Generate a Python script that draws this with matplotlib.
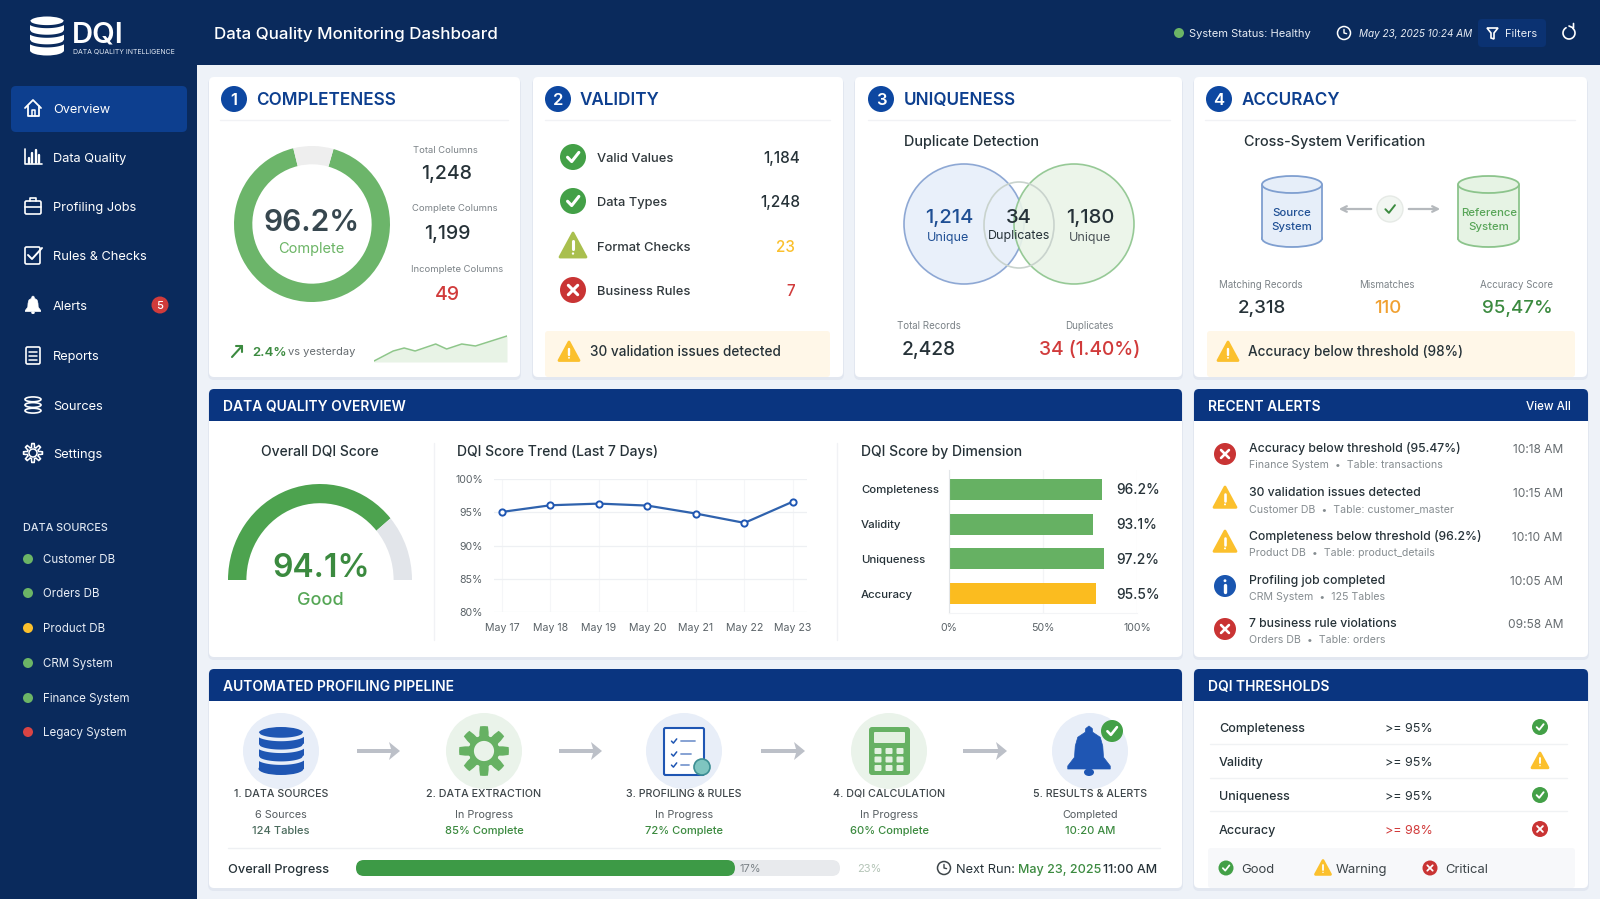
# encoding=utf-8

import numpy as np
import matplotlib
matplotlib.use('Agg')
import matplotlib.pyplot as plt
from matplotlib.patches import Circle, Ellipse, FancyBboxPatch, Polygon, Rectangle

plt.rcParams['font.family'] = ['Inter', 'DejaVu Sans']

W, H = 1600, 899

NAVY = '#0a2a5c'
HEAD_BLUE = '#0a3580'
BADGE_BLUE = '#0d47a1'
GREEN = '#4caf50'
SOFT_GREEN = '#6cb566'
DARK_GREEN = '#3b8a3f'
AMBER = '#fbc02d'
RED = '#d13b3b'
INK = '#263238'
GRAY = '#7b8287'

# sidebar
nav_labels = ['Overview', 'Data Quality', 'Profiling Jobs', 'Rules & Checks', 'Alerts',
              'Reports', 'Sources', 'Settings']
alert_badge = '5'
source_names = ['Customer DB', 'Orders DB', 'Product DB', 'CRM System', 'Finance System', 'Legacy System']
source_states = ['good', 'good', 'warn', 'good', 'good', 'bad']

# completeness card
complete_slices = [91.7, 8.3]
complete_stat_names = ['Total Columns', 'Complete Columns', 'Incomplete Columns']
complete_stat_values = ['1,248', '1,199', '49']
spark_pos = [0, 0.7, 1.1, 1.5, 2.25, 2.65, 3.2, 3.7, 4.85]
spark_vals = [1, 11, 14, 11, 18, 13, 18, 16, 26]

# validity card
validity_names = ['Valid Values', 'Data Types', 'Format Checks', 'Business Rules']
validity_values = ['1,184', '1,248', '23', '7']
validity_states = ['good', 'good', 'warn', 'bad']

# overview charts
gauge_slices = [77.8, 22.2]
trend_days = ['May 17', 'May 18', 'May 19', 'May 20', 'May 21', 'May 22', 'May 23']
trend_scores = [95.05, 96.05, 96.3, 96.0, 94.8, 93.4, 96.6]
trend_ticks = [80, 85, 90, 95, 100]
dimension_names = ['Completeness', 'Validity', 'Uniqueness', 'Accuracy']
dimension_bars = [81.4, 76.6, 82.4, 78.2]
dimension_labels = ['96.2%', '93.1%', '97.2%', '95.5%']

# alerts
alert_titles = ['Accuracy below threshold (95.47%)', '30 validation issues detected',
                'Completeness below threshold (96.2%)', 'Profiling job completed', '7 business rule violations']
alert_subs = ['Finance System  •  Table: transactions', 'Customer DB  •  Table: customer_master',
              'Product DB  •  Table: product_details', 'CRM System  •  125 Tables', 'Orders DB  •  Table: orders']
alert_times = ['10:18 AM', '10:15 AM', '10:10 AM', '10:05 AM', '09:58 AM']
alert_states = ['bad', 'warn', 'warn', 'info', 'bad']

# thresholds
threshold_names = ['Completeness', 'Validity', 'Uniqueness', 'Accuracy']
threshold_values = ['>= 95%', '>= 95%', '>= 95%', '>= 98%']
threshold_states = ['good', 'warn', 'good', 'bad']

# pipeline
step_names = ['1. DATA SOURCES', '2. DATA EXTRACTION', '3. PROFILING & RULES', '4. DQI CALCULATION', '5. RESULTS & ALERTS']
step_status = ['6 Sources', 'In Progress', 'In Progress', 'In Progress', 'Completed']
step_detail = ['124 Tables', '85% Complete', '72% Complete', '60% Complete', '10:20 AM']
overall_progress = 78.3

fig = plt.figure(figsize=(W / 100, H / 100), dpi=100, facecolor='#eef2f8')
ax = fig.add_axes([0, 0, 1, 1])
ax.set_xlim(0, W)
ax.set_ylim(H, 0)
ax.axis('off')


def txt(x, y, s, size=9, color=INK, weight='normal', ha='left', **kw):
    # y is the middle of the capitals, so rows line up whatever the letters are
    return ax.text(x, y + .505 * size, s, fontsize=size, color=color, fontweight=weight, ha=ha, va='baseline', **kw)


def rrect(x0, y0, x1, y1, r, fc, ec='none', lw=0, z=1, alpha=None):
    p = FancyBboxPatch((x0, y0), x1 - x0, y1 - y0, boxstyle='round,pad=0,rounding_size=%s' % r,
                       fc=fc, ec=ec, lw=lw, zorder=z, alpha=alpha)
    ax.add_patch(p)
    return p


def line(xs, ys, color, lw=1.5, z=4, **kw):
    ax.plot(xs, ys, color=color, lw=lw, zorder=z, solid_capstyle='round', solid_joinstyle='round', **kw)


def inset(x0, y0, x1, y1):
    return fig.add_axes([x0 / W, 1 - y1 / H, (x1 - x0) / W, (y1 - y0) / H], facecolor='none')


def card(x0, y0, x1, y1):
    rrect(x0 - 1, y0 + 1, x1 + 1, y1 + 3, 6, '#dde3ee', z=0.5, alpha=0.7)
    rrect(x0, y0, x1, y1, 5, 'white', z=1)


def panel(x0, y0, x1, y1, head_bottom, title):
    card(x0, y0, x1, y1)
    rrect(x0, y0, x1, head_bottom, 5, HEAD_BLUE, z=2)
    ax.add_patch(Rectangle((x0, y0 + 8), x1 - x0, head_bottom - y0 - 8, fc=HEAD_BLUE, ec='none', zorder=2))
    txt(x0 + 14, (y0 + head_bottom) / 2 + 1, title, size=10, color='white', weight='semibold', zorder=5)


def check_mark(x, y, r, color='white', lw=1.8):
    line([x - .42 * r, x - .1 * r, x + .45 * r], [y + .02 * r, y + .35 * r, y - .35 * r], color, lw=lw, z=6)


def status_icon(x, y, r, state, warn_color=AMBER):
    if state == 'warn':
        ax.add_patch(Polygon([(x, y - r), (x + r, y + .85 * r), (x - r, y + .85 * r)], closed=True,
                             fc=warn_color, ec=warn_color, lw=2, joinstyle='round', zorder=5))
        line([x, x], [y - .35 * r, y + .25 * r], 'white', lw=max(1.2, r * .17), z=6)
        ax.add_patch(Circle((x, y + .58 * r), .09 * r, fc='white', ec='none', zorder=6))
        return
    color = {'good': '#43a047', 'bad': '#c93434', 'info': '#1a56b0'}[state]
    ax.add_patch(Circle((x, y), r, fc=color, ec='none', zorder=5))
    if state == 'good':
        check_mark(x, y, r, lw=max(1.2, r * .17))
    elif state == 'bad':
        d = .36 * r
        lw = max(1.2, r * .17)
        line([x - d, x + d], [y - d, y + d], 'white', lw=lw, z=6)
        line([x - d, x + d], [y + d, y - d], 'white', lw=lw, z=6)
    else:
        line([x, x], [y - .1 * r, y + .55 * r], 'white', lw=r * .22, z=6)
        ax.add_patch(Circle((x, y - .48 * r), .13 * r, fc='white', ec='none', zorder=6))


def num_badge(x, y, n):
    ax.add_patch(Circle((x, y), 13, fc=BADGE_BLUE, ec='none', zorder=3))
    txt(x, y, n, size=12, color='white', weight='semibold', ha='center', zorder=4)


def card_title(x, y, s):
    txt(x, y, s, size=12.3, color='#0d3f8f', weight='semibold')


def db_solid(x, y, w, h, color, gap, gap_lw=2, z=5):
    # one cylinder, cut into three bands by curved gaps
    eh = h * .26
    top, bot = y - h / 2 + eh / 2, y + h / 2 - eh / 2
    ax.add_patch(Rectangle((x - w / 2, top), w, bot - top, fc=color, ec='none', zorder=z))
    ax.add_patch(Ellipse((x, top), w, eh, fc=color, ec='none', zorder=z))
    ax.add_patch(Ellipse((x, bot), w, eh, fc=color, ec='none', zorder=z))
    t = np.linspace(-1, 1, 30)
    for f in [0, 1 / 3.0, 2 / 3.0]:
        cy = top + (bot - top) * f
        line(x + t * (w / 2 + 1), cy + eh / 2 * np.sqrt(1 - t ** 2), gap, lw=gap_lw, z=z + .1)


def db_outline(x, y, w, h, color, lw=1.2, z=5):
    seg = h / 3.0
    for i in range(3):
        cy = y - h / 2 + seg * (i + .5)
        ax.add_patch(Ellipse((x, cy), w, seg * .85, fc='none', ec=color, lw=lw, zorder=z))


def gear_icon(x, y, r, color, hole='white', filled=True, lw=1.3, z=5):
    ang = np.linspace(0, 2 * np.pi, 97)
    rad = r * (.8 + .2 * np.clip(3 * np.cos(8 * ang), -1, 1))
    pts = np.c_[x + rad * np.cos(ang), y + rad * np.sin(ang)]
    ax.add_patch(Polygon(pts, closed=True, fc=color if filled else 'none', ec=color, lw=lw, zorder=z))
    ax.add_patch(Circle((x, y), r * .42, fc=hole, ec=color if not filled else 'none', lw=lw, zorder=z + .1))


def bell_icon(x, y, r, color, z=5):
    shape = [(0, -1), (.13, -.9), (.15, -.75), (.45, -.55), (.55, -.2), (.58, .25), (.85, .6), (.85, .72),
             (-.85, .72), (-.85, .6), (-.58, .25), (-.55, -.2), (-.45, -.55), (-.15, -.75), (-.13, -.9)]
    ax.add_patch(Polygon([(x + a * r, y + b * r) for a, b in shape], closed=True, fc=color, ec=color, lw=.5,
                         joinstyle='round', zorder=z))
    ax.add_patch(Ellipse((x, y + .85 * r), .4 * r, .3 * r, fc=color, ec='none', zorder=z))


def clock_icon(x, y, r, color):
    ax.add_patch(Circle((x, y), r, fc='none', ec=color, lw=1.1, zorder=5))
    line([x, x, x + .4 * r], [y - .55 * r, y, y + .1 * r], color, lw=1, z=6)


def cylinder(x0, x1, y0, y1, edge, face):
    cx = (x0 + x1) / 2
    w = x1 - x0
    eh = 17
    ax.add_patch(Rectangle((x0, y0 + eh / 2), w, y1 - y0 - eh, fc=face, ec='none', zorder=3))
    ax.add_patch(Ellipse((cx, y1 - eh / 2), w, eh, fc=face, ec=edge, lw=1.3, zorder=2.9))
    ax.add_patch(Ellipse((cx, y0 + eh / 2), w, eh, fc=face, ec=edge, lw=1.3, zorder=3.2))
    line([x0, x0], [y0 + eh / 2, y1 - eh / 2], edge, lw=1.3, z=3.1)
    line([x1, x1], [y0 + eh / 2, y1 - eh / 2], edge, lw=1.3, z=3.1)


# ---- header and sidebar ----
ax.add_patch(Rectangle((0, 0), 197, H, fc=NAVY, ec='none', zorder=0.2))
ax.add_patch(Rectangle((0, 0), W, 65, fc=NAVY, ec='none', zorder=0.2))

db_solid(47, 36, 34, 39, 'white', NAVY, gap_lw=2.2)
txt(72, 32, 'DQI', size=21, color='white', weight='semibold')
txt(73, 51, 'DATA QUALITY INTELLIGENCE', size=5, color='#dfe7f3')
txt(214, 33, 'Data Quality Monitoring Dashboard', size=12.2, color='white', weight='medium')

ax.add_patch(Circle((1179, 33), 5, fc=SOFT_GREEN, ec='none', zorder=3))
txt(1189, 33, 'System Status: Healthy', size=8, color='#e8edf5')
clock_icon(1344, 33, 6.5, 'white')
txt(1359, 33, 'May 23, 2025 10:24 AM', size=7.2, color='#e8edf5', style='italic')
rrect(1478, 19, 1546, 47, 4, '#0b3272', z=1)
ax.add_patch(Polygon([(1487, 28), (1498, 28), (1494, 33), (1494, 39), (1491, 38), (1491, 33)], closed=True,
                     fc='none', ec='white', lw=1.2, zorder=4))
txt(1505, 33, 'Filters', size=8, color='#e8edf5')
arc = np.linspace(-0.9, 4.2, 40)
line(1569 + 6 * np.cos(arc), 33 + 6 * np.sin(arc), 'white', lw=1.2)
line([1569, 1573.5, 1573.5], [26, 28, 23.5], 'white', lw=1.2)

rrect(11, 86, 187, 132, 5, '#0d3f8f', z=1)
nav_y = [108, 157, 206, 255, 305, 355, 405, 453]
for label, y in zip(nav_labels, nav_y):
    txt(53, y, label, size=9.2, color='white')

# nav icons
c = 'white'
y = nav_y[0]
line([25, 33, 41], [y, y - 8, y], c, 1.3)
line([27.5, 27.5, 38.5, 38.5], [y - 2, y + 8, y + 8, y - 2], c, 1.3)
line([31.5, 31.5, 34.5, 34.5], [y + 8, y + 2, y + 2, y + 8], c, 1.1)
y = nav_y[1]
line([25, 25, 42], [y - 8, y + 7, y + 7], c, 1.2)
for bx, top in zip([28.5, 32, 35.5, 39], [1, -4, -7, -2]):
    line([bx, bx], [y + 6, y + top], c, 1.7)
y = nav_y[2]
rrect(25, y - 5, 41, y + 8, 1.5, 'none', ec=c, lw=1.2, z=4)
line([30, 30, 36, 36], [y - 5, y - 8, y - 8, y - 5], c, 1.2)
line([25, 41], [y + 1, y + 1], c, 1.2)
y = nav_y[3]
rrect(25, y - 8, 40, y + 9, 1.5, 'none', ec=c, lw=1.2, z=4)
line([28, 32, 42], [y, y + 4, y - 7], c, 1.4)
y = nav_y[4]
bell_icon(33, y, 9, c)
y = nav_y[5]
rrect(26, y - 8, 40, y + 9, 1.5, 'none', ec=c, lw=1.2, z=4)
for dy in [-3, 1, 5]:
    line([29, 37], [y + dy, y + dy], c, 1.1)
db_outline(33, nav_y[6], 16, 17, c)
gear_icon(33, nav_y[7], 9.5, c, hole=NAVY, filled=False, lw=1.1)

ax.add_patch(Circle((160, 305), 8.5, fc=RED, ec='none', zorder=3))
txt(160, 305, alert_badge, size=8, color='white', weight='medium', ha='center', zorder=4)

txt(23, 527, 'DATA SOURCES', size=7.8, color='#dde5f0', weight='medium')
dot_color = {'good': SOFT_GREEN, 'warn': AMBER, 'bad': '#d94444'}
source_y = [559, 593, 628, 663, 698, 732]
for name, state, y in zip(source_names, source_states, source_y):
    ax.add_patch(Circle((28, y), 5, fc=dot_color[state], ec='none', zorder=3))
    txt(43, y, name, size=8.3, color='#e8edf5')

# ---- four metric cards ----
card(209, 77, 520, 377)
card(533, 77, 843, 377)
card(855, 77, 1182, 377)
card(1194, 77, 1587, 377)
for x0, x1 in [(220, 508), (545, 830), (868, 1170), (1205, 1575)]:
    line([x0, x1], [120, 120], '#f1f2f5', lw=1, z=2)

num_badge(234, 99, '1')
card_title(256, 99, 'COMPLETENESS')
num_badge(558, 99, '2')
card_title(580, 99, 'VALIDITY')
num_badge(881, 99, '3')
card_title(904, 99, 'UNIQUENESS')
num_badge(1219, 99, '4')
card_title(1242, 99, 'ACCURACY')

# donut
dax = inset(234, 146, 390, 302)
dax.pie(complete_slices, colors=['#6cb56a', '#eeeeee'], startangle=74, counterclock=False, radius=1,
        wedgeprops=dict(width=0.235, linewidth=0))
dax.set_xlim(-1, 1)
dax.set_ylim(-1, 1)
txt(312, 220, '96.2%', size=21.5, color='#37474f', weight='semibold', ha='center')
txt(311, 248, 'Complete', size=10.5, color=SOFT_GREEN, ha='center')

for name, value, cx, y0, y1, col in zip(complete_stat_names, complete_stat_values, [445, 455, 457],
                                        [150, 208, 269], [172, 232, 293], [INK, INK, RED]):
    txt(cx, y0, name, size=6.8, color=GRAY, ha='center')
    txt(447, y1, value, size=14, color=col, ha='center', weight='medium')

line([232, 242], [357, 346], DARK_GREEN, 1.5)
line([236, 242, 242], [346, 346, 352], DARK_GREEN, 1.5)
txt(252, 351, '2.4%', size=9.5, color=DARK_GREEN, weight='semibold')
txt(288, 351, 'vs yesterday', size=8, color='#666c70')

sax = inset(374, 333, 507, 362)
sax.fill_between(spark_pos, spark_vals, 0, color='#e8f3e6', lw=0)
sax.plot(spark_pos, spark_vals, color='#8ec68a', lw=1.1)
sax.set_xlim(0, 4.85)
sax.set_ylim(0, 29)
sax.axis('off')

# validity
for name, value, state, y in zip(validity_names, validity_values, validity_states, [157, 201, 246, 290]):
    status_icon(573, y, 13, state, warn_color='#a9bf4e')
    txt(597, y, name, size=9.3, color='#30383c', weight='medium')
    col = {'good': INK, 'warn': AMBER, 'bad': RED}[state]
    txt(800 if state == 'good' else 795, y, value, size=11, color=col, ha='right', weight='medium')

rrect(545, 331, 830, 377, 3, '#fff7e8', z=1.5)
status_icon(569, 352, 10, 'warn')
txt(590, 351, '30 validation issues detected', size=9.8, color=INK, weight='medium')

# uniqueness
txt(904, 141, 'Duplicate Detection', size=10.4, color=INK, weight='medium')
ax.add_patch(Circle((964, 224), 60, fc='#e9f0fa', ec='#8ea8d4', lw=1.2, zorder=2))
ax.add_patch(Circle((1074, 224), 60, fc='#eaf4e8', ec='#8cc48c', lw=1.2, zorder=2.1, alpha=0.9))
ax.add_patch(Ellipse((1019, 225), 70, 86, fc='none', ec='#c9d3cd', lw=1.2, zorder=2.2))
txt(949, 216, '1,214', size=14.5, color='#1f4f94', ha='center', weight='medium')
txt(948, 236, 'Unique', size=9, color='#1f4f94', ha='center')
txt(1019, 216, '34', size=14.5, color=INK, ha='center', weight='medium')
txt(1019, 234, 'Duplicates', size=9, color=INK, ha='center')
txt(1090, 216, '1,180', size=14.5, color=INK, ha='center', weight='medium')
txt(1090, 236, 'Unique', size=9, color='#4a5257', ha='center')
txt(929, 325, 'Total Records', size=7, color=GRAY, ha='center')
txt(929, 348, '2,428', size=13.8, color=INK, ha='center', weight='medium')
txt(1089, 325, 'Duplicates', size=7, color=GRAY, ha='center')
txt(1090, 348, '34 (1.40%)', size=13.8, color=RED, ha='center', weight='medium')

# accuracy
txt(1244, 141, 'Cross-System Verification', size=10.4, color=INK, weight='medium')
cylinder(1262, 1322, 176, 247, '#7f9fd0', '#e6eef9')
cylinder(1458, 1519, 176, 247, '#8cc48c', '#e6f3e4')
txt(1292, 212, 'Source', size=8.2, color='#1f4f94', ha='center', zorder=6, weight='medium')
txt(1292, 226, 'System', size=8.2, color='#1f4f94', ha='center', zorder=6, weight='medium')
txt(1489, 212, 'Reference', size=8.2, color='#58a558', ha='center', zorder=6, weight='medium')
txt(1489, 226, 'System', size=8.2, color='#58a558', ha='center', zorder=6, weight='medium')
for a, b in [(1374, 1336), (1406, 1443)]:
    ax.annotate('', xy=(b, 209), xytext=(a, 209), arrowprops=dict(arrowstyle='->', color='#b5b9bd', lw=1.6),
                zorder=3)
ax.add_patch(Circle((1390, 209), 13, fc='#f2f6f2', ec='#e6eae6', lw=1, zorder=3))
check_mark(1390, 209, 11, color=DARK_GREEN, lw=1.4)
stat_x = [1261, 1387, 1516]
for x, name, val, col in zip(stat_x, ['Matching Records', 'Mismatches', 'Accuracy Score'],
                             ['2,318', '110', '95,47%'], [INK, '#f0a030', DARK_GREEN]):
    txt(x, 284, name, size=7, color=GRAY, ha='center')
    txt(x + 1, 306, val, size=13.5, color=col, ha='center', weight='medium')

rrect(1207, 331, 1575, 377, 3, '#fff7e8', z=1.5)
status_icon(1228, 352, 10, 'warn')
txt(1248, 351, 'Accuracy below threshold (98%)', size=9.8, color=INK, weight='medium')

# ---- overview panel ----
panel(209, 389, 1182, 657, 421, 'DATA QUALITY OVERVIEW')
txt(320, 451, 'Overall DQI Score', size=10, color=INK, ha='center', weight='medium')
txt(457, 451, 'DQI Score Trend (Last 7 Days)', size=10, color=INK, weight='medium')
txt(861, 451, 'DQI Score by Dimension', size=10, color=INK, weight='medium')
line([434, 434], [443, 640], '#f1f2f5', lw=1)
line([837, 837], [443, 640], '#f1f2f5', lw=1)

gax = inset(228, 484, 412, 676)
gax.pie(gauge_slices + [100], colors=['#4da34f', '#e2e5ea', 'none'], startangle=180, counterclock=False, radius=1,
        wedgeprops=dict(width=0.2, linewidth=0))
gax.set_aspect('auto')
gax.set_xlim(-1, 1)
gax.set_ylim(-1, 1)
txt(321, 565, '94.1%', size=23, color=DARK_GREEN, ha='center', weight='semibold')
txt(320, 598, 'Good', size=13, color='#55a655', ha='center', weight='medium')

# trend chart
tax = inset(494, 479, 807, 612)
x_days = np.arange(len(trend_days))
tax.plot(x_days, trend_scores, color='#2f62ad', lw=1.6, marker='o', ms=4.5, mfc='white', mec='#1f56b3', mew=1.4)
tax.set_xlim(-0.165, 6.29)
tax.set_ylim(80, 100)
tax.set_yticks(trend_ticks)
tax.set_yticklabels(['%d%%' % t for t in trend_ticks])
tax.set_xticks(x_days)
tax.set_xticklabels(trend_days)
tax.tick_params(length=0, labelsize=7.6, labelcolor='#5a6267', pad=8)
tax.grid(axis='y', color='#eef0f3', lw=0.9)
tax.grid(axis='x', color='#f5f6f8', lw=0.8)
tax.set_axisbelow(True)
for s in tax.spines.values():
    s.set_visible(False)

# dimension bars
bax = inset(949, 470, 1137, 613)
bar_colors = ['#66b163', '#66b163', '#66b163', '#fbbc1f']
bax.barh(np.arange(4), dimension_bars, height=0.6, color=bar_colors)
bax.set_xlim(0, 100)
bax.set_ylim(3.543, -0.543)
bax.set_xticks([0, 50, 100])
bax.set_xticklabels(['0%', '50%', '100%'])
bax.set_yticks([])
bax.tick_params(length=0, labelsize=7.6, labelcolor='#5a6267', pad=7)
bax.grid(axis='x', color='#f3f4f6', lw=0.9)
bax.set_axisbelow(True)
for name in ['top', 'right']:
    bax.spines[name].set_visible(False)
bax.spines['left'].set_color('#e3e6e9')
bax.spines['bottom'].set_color('#f3f4f6')
for name, label, y in zip(dimension_names, dimension_labels, [489, 524, 559, 594]):
    txt(861, y, name, size=8.2, color=INK, weight='medium')
    txt(1116, y, label, size=9.9, color=INK, weight='medium')

# ---- recent alerts ----
panel(1194, 389, 1588, 657, 421, 'RECENT ALERTS')
txt(1571, 406, 'View All', size=8.4, color='white', ha='right', zorder=5, weight='medium')
for title, sub, tm, state, y in zip(alert_titles, alert_subs, alert_times, alert_states, [454, 498, 542, 586, 629]):
    status_icon(1225, y, 11, state)
    txt(1249, y - 6, title, size=8.8, color=INK, weight='medium')
    txt(1249, y + 10, sub, size=7.6, color='#858c90')
    txt(1563, y - 5, tm, size=8.6, color='#666c70', ha='right')

# ---- thresholds ----
panel(1194, 669, 1588, 888, 701, 'DQI THRESHOLDS')
for name, val, state, y in zip(threshold_names, threshold_values, threshold_states, [727, 761, 795, 829]):
    txt(1219, y, name, size=9, color=INK, weight='medium')
    txt(1385, y, val, size=9, color=RED if state == 'bad' else INK)
    status_icon(1540, y, 8, state)
for y in [744, 778, 811]:
    line([1210, 1567], [y, y], '#f0f2f4', lw=1, z=2)
rrect(1208, 848, 1575, 888, 3, '#f7f8fa', z=1.5)
for x_i, x_t, state, name in [(1226, 1241, 'good', 'Good'), (1323, 1336, 'warn', 'Warning'), (1430, 1445, 'bad', 'Critical')]:
    status_icon(x_i, 868, 7.5, state)
    txt(x_t, 868, name, size=9.4, color='#3d4549')

# ---- pipeline ----
panel(209, 669, 1182, 888, 701, 'AUTOMATED PROFILING PIPELINE')
step_x = [281, 484, 684, 889, 1090]
step_bg = ['#e8eef8', '#eaf3ea', '#e8eef8', '#eaf3ea', '#e8eef8']
for x, bg, name, st, det, i in zip(step_x, step_bg, step_names, step_status, step_detail, range(5)):
    ax.add_patch(Circle((x, 751), 38, fc=bg, ec='none', zorder=2))
    txt(x, 793, name, size=7.7, color='#3d4549', ha='center', weight='medium')
    txt(x, 814, st, size=7.8, color='#565d61', ha='center')
    txt(x, 830, det, size=8, color='#4a6a5c' if i == 0 else DARK_GREEN, ha='center', weight='medium')

for x0, x1 in [(357, 400), (559, 602), (761, 805), (963, 1007)]:
    ax.add_patch(Polygon([(x0, 749), (x1 - 9, 749), (x1 - 11, 742), (x1, 751), (x1 - 11, 760), (x1 - 9, 753), (x0, 753)],
                         closed=True, fc='#bcc0c8', ec='none', zorder=3))

# step icons
ICON_BLUE = '#1f56b3'
db_solid(281, 751, 45, 48, ICON_BLUE, '#e8eef8', gap_lw=2.5, z=4)
gear_icon(484, 751, 24, '#66b163', hole='#eaf3ea')
rrect(664, 728, 704, 775, 1.5, 'white', ec=ICON_BLUE, lw=1.5, z=4)
for dy, wid in [(-10, 18), (3, 12), (14, 10)]:
    check_mark(674, 751 + dy, 6, color=ICON_BLUE, lw=1.1)
    line([681, 681 + wid * .8], [751 + dy, 751 + dy], '#7d9bd0', lw=1.3, z=5)
ax.add_patch(Circle((702, 767), 8, fc='#7fc5c0', ec='#3d8f93', lw=1.2, zorder=6))
rrect(869, 727, 910, 775, 3, '#66b163', z=4)
rrect(874, 732, 905, 743, 1, '#e3f1e1', z=5)
for row in range(3):
    for col in range(3):
        rrect(874.5 + col * 11, 748 + row * 8.5, 881.5 + col * 11, 754 + row * 8.5, 1, '#e3f1e1', z=5)
bell_icon(1089, 751, 25, ICON_BLUE)
status_icon(1112, 731, 11, 'good')

line([228, 1160], [848, 848], '#eef0f3', lw=1, z=2)
txt(228, 868, 'Overall Progress', size=9.2, color=INK, weight='medium')
bar_x0, bar_x1 = 356, 840
rrect(bar_x0, 860, bar_x1, 876, 8, '#e8eaed', z=2)
rrect(bar_x0, 860, bar_x0 + (bar_x1 - bar_x0) * overall_progress / 100, 876, 8, '#3d9a46', z=3)
txt(740, 868, '17%', size=8, color='#7b8287', zorder=4)
txt(857, 868, '23%', size=8, color='#b5c5b8')
clock_icon(944, 868, 6.5, '#3d4549')
txt(956, 868, 'Next Run:', size=9.2, color=INK)
txt(1018, 868, 'May 23, 2025', size=9, color=DARK_GREEN, weight='medium')
txt(1103, 868, '11:00 AM', size=9, color=INK, weight='medium')

fig.savefig('out.png', dpi=100, facecolor=fig.get_facecolor())
